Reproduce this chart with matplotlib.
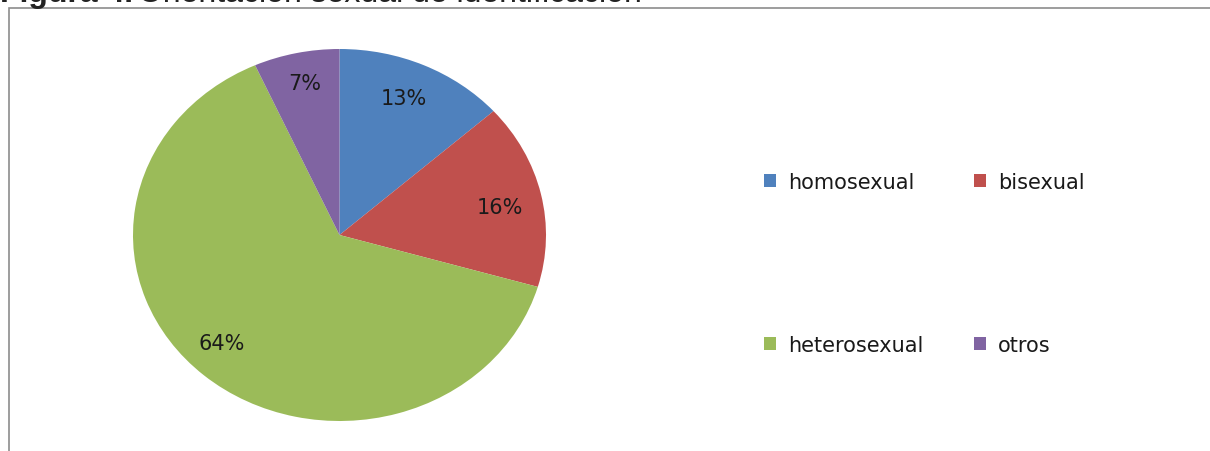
import matplotlib
matplotlib.use('Agg')
import matplotlib.pyplot as plt
from matplotlib.patches import Patch, Rectangle

# data (shares; labels show them rounded)
categories = ['homosexual', 'bisexual', 'heterosexual', 'otros']
values = [13.4, 16.1, 63.8, 6.7]
colors = ['#4F81BD', '#C0504D', '#9BBB59', '#8064A2']

W, H = 1210, 452
fig = plt.figure(figsize=(W / 100, H / 100), dpi=100)

# chart frame (only top and left edges are visible in the crop)
fig.patches.append(Rectangle((9 / W, -0.1), 1.2, (H - 9) / H + 0.1,
                             transform=fig.transFigure, fill=False,
                             edgecolor='#8c8c8c', linewidth=1.2))

# title, mostly cut off above the figure
t1 = fig.text(0.0, (H - 2) / H, 'Figura 4.', fontsize=23, fontweight='bold',
              family='Liberation Sans', va='baseline', color='#222222')
fig.canvas.draw()
bb = t1.get_window_extent()
fig.text(bb.x1 / W + 5 / W, (H - 2) / H, 'Orientación sexual de identificación',
         fontsize=23, family='Liberation Sans', va='baseline', color='#222222')

# pie (slightly wider than tall, like the original)
left, right, top, bottom = 133, 546, 50, 422
ax = fig.add_axes([left / W, (H - bottom) / H, (right - left) / W, (bottom - top) / H])
wedges, texts = ax.pie(values, colors=colors, startangle=90, counterclock=False,
                       radius=1, wedgeprops=dict(linewidth=0))
ax.set_aspect('auto')
ax.set_xlim(-1, 1)
ax.set_ylim(-1, 1)
ax.axis('off')

# percentage labels
lab_pos = [(404, 99), (500, 208), (222, 344), (305, 84)]
for v, (px, py) in zip(values, lab_pos):
    fig.text(px / W, (H - py) / H, f'{v:.0f}%', fontsize=15, family='DejaVu Sans',
             ha='center', va='center', color='#1a1a1a')

# legend is filled column by column, so reorder to read row by row
order = [0, 2, 1, 3]
handles = [Patch(facecolor=colors[i], edgecolor='none') for i in order]
labels = [categories[i] for i in order]
leg = fig.legend(handles, labels, ncol=2, frameon=False,
                 loc='upper left', bbox_to_anchor=(764 / W, (H - 173) / H),
                 prop={'family': 'DejaVu Sans', 'size': 15},
                 handlelength=0.58, handleheight=0.58, handletextpad=0.58,
                 columnspacing=2.4, labelspacing=6.85, borderpad=0,
                 borderaxespad=0)
for txt in leg.get_texts():
    txt.set_color('#1a1a1a')

fig.savefig('out.png', dpi=100)
